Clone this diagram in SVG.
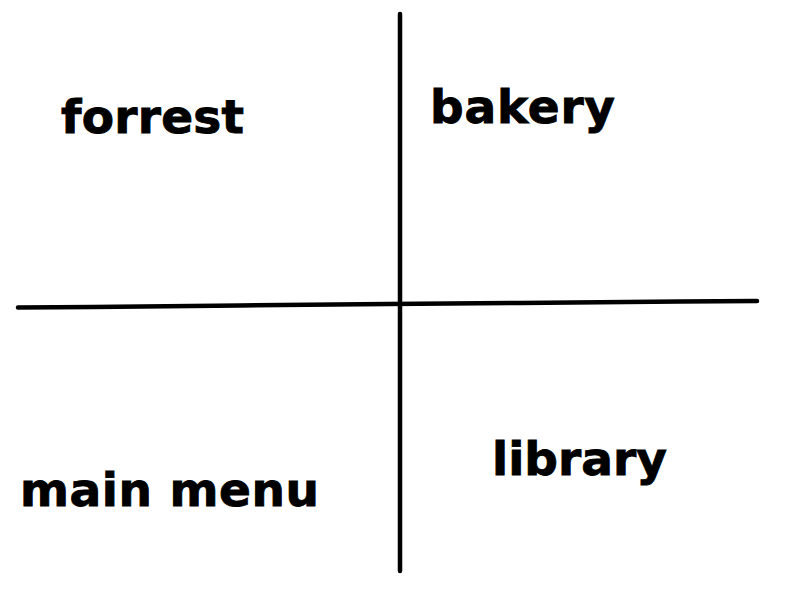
<svg xmlns="http://www.w3.org/2000/svg" width="800" height="600" viewBox="0 0 800 600">
<style>
.lbl{font-family:"DejaVu Sans","Liberation Sans",sans-serif;font-weight:bold;font-size:47px;fill:#000;stroke:#000;stroke-width:0.9}
.ln{stroke:#000;stroke-width:4.5;fill:none;stroke-linecap:round}
</style>
<rect width="800" height="600" fill="#fff"/>
<g id="connectors">
<line class="ln" x1="400" y1="14" x2="400" y2="571"/>
<polyline class="ln" points="18,307.5 93,307 240,305.5 388,304 520,303 680,301.5 757,301"/>
</g>
<g id="forrest"><text class="lbl" x="61" y="133" textLength="183" lengthAdjust="spacing">forrest</text></g>
<g id="bakery"><text class="lbl" x="430" y="123" textLength="185" lengthAdjust="spacing">bakery</text></g>
<g id="library"><text class="lbl" x="492" y="475" textLength="175" lengthAdjust="spacing">library</text></g>
<g id="main-menu"><text class="lbl" x="20" y="506" textLength="299" lengthAdjust="spacing">main menu</text></g>
</svg>
